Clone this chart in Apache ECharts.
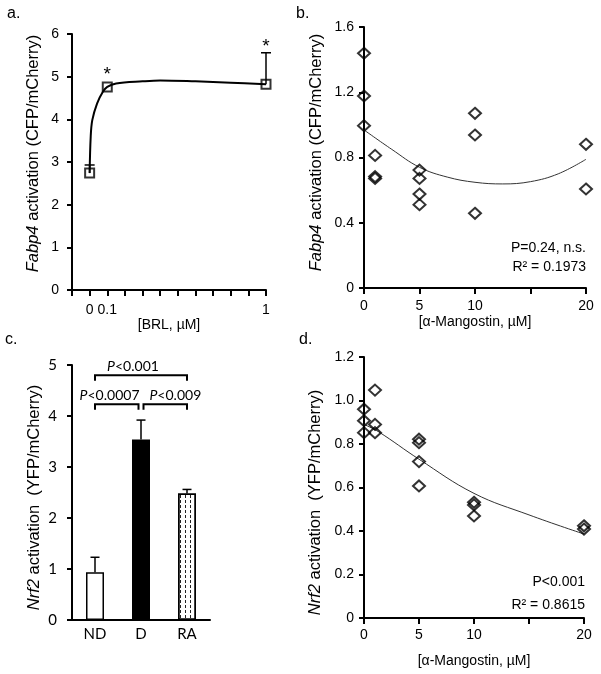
<!DOCTYPE html>
<html><head><meta charset="utf-8">
<script src="https://cdn.jsdelivr.net/npm/echarts@6/dist/echarts.min.js"></script>
<style>html,body{margin:0;padding:0;background:#fff}#c{width:601px;height:674px}</style>
</head><body><div id="c"></div>
<script>
// ---------- Panel a: Fabp4 activation vs BRL ----------
const brlDose = [0, 0.1, 1];
const fabp4Brl = [2.74, 4.76, 4.82];
const fabp4BrlErrTop = [2.93, null, 5.56];
const brlStarDose = [0.1, 1];
const brlStarY = [5.15, 5.79];
const brlCurveX = [0, 0.006, 0.015, 0.042, 0.076, 0.1, 0.15, 0.3, 0.4, 0.6, 0.8, 1];
const brlCurveY = [2.74, 3.59, 3.98, 4.37, 4.65, 4.76, 4.84, 4.89, 4.91, 4.89, 4.86, 4.82];
const brlTickLabels = ['0', '0.1', '1'];

// ---------- Panel b: Fabp4 activation vs alpha-Mangostin ----------
const mangoDoseB = [0, 0, 0, 1, 1, 1, 5, 5, 5, 5, 10, 10, 10, 20, 20];
const fabp4Mango = [1.439, 1.177, 0.995, 0.813, 0.683, 0.672, 0.723, 0.672, 0.576, 0.511, 1.071, 0.938, 0.458, 0.881, 0.607];
const fitBX = [0, 2.5, 5, 7.5, 10, 12.5, 15, 17.5, 20];
const fitBY = [0.969, 0.850, 0.740, 0.680, 0.648, 0.638, 0.652, 0.700, 0.789];
const statsB = ['P=0.24, n.s.', 'R\u00b2 = 0.1973'];

// ---------- Panel c: Nrf2 activation by group ----------
const groups = ['ND', 'D', 'RA'];
const nrf2Means = [0.935, 3.54, 2.48];
const nrf2ErrTop = [1.23, 3.92, 2.56];
const bracketFrom = [0, 0, 1];
const bracketTo = [2, 1, 2];
const bracketY = [4.80, 4.23, 4.23];
const bracketP = ['<0.001', '<0.0007', '<0.009'];

// ---------- Panel d: Nrf2 activation vs alpha-Mangostin ----------
const mangoDoseD = [0, 0, 0, 1, 1, 1, 5, 5, 5, 5, 10, 10, 10, 20, 20];
const nrf2Mango = [0.960, 0.907, 0.852, 1.048, 0.890, 0.852, 0.822, 0.806, 0.719, 0.607, 0.532, 0.520, 0.469, 0.424, 0.409];
const fitDX = [0, 1.3, 5, 10, 15, 20];
const fitDY = [0.89, 0.857, 0.73, 0.573, 0.474, 0.386];
const statsD = ['P<0.001', 'R\u00b2 = 0.8615'];

const panelLetters = ['a.', 'b.', 'c.', 'd.'];

// ---------- styling helpers ----------
const ARIAL = 'Liberation Sans, Arial, sans-serif';
const CALI = 'Lato, Open Sans, sans-serif';
const zip = (a, b) => a.map((v, i) => [v, b[i]]);

function axisBase(font, labelSize, margin, tickLen) {
  return {
    axisLine: { show: true, onZero: false, lineStyle: { color: '#000', width: 2 } },
    axisTick: { show: true, length: tickLen || 5, lineStyle: { color: '#000', width: 2 } },
    axisLabel: { color: '#000', fontSize: labelSize, fontFamily: font, margin: margin },
    splitLine: { show: false },
    nameTextStyle: { color: '#000', fontFamily: ARIAL, fontSize: 14 }
  };
}
function yName(gene, rest, pad) {
  return {
    name: '{i|' + gene + '}' + rest,
    nameLocation: 'middle',
    nameTextStyle: {
      color: '#000', fontFamily: ARIAL, fontSize: 16.5, padding: pad,
      rich: { i: { fontStyle: 'italic', fontFamily: ARIAL, fontSize: 16.5, color: '#000' } }
    }
  };
}
const dec1 = v => (Math.abs(v) < 1e-9 ? '0' : v.toFixed(1));

function errRender(capHalf) {
  return function (params, api) {
    const p0 = api.coord([api.value(0), api.value(1)]);
    const p1 = api.coord([api.value(0), api.value(2)]);
    const st = { stroke: '#000', lineWidth: 1.5 };
    return { type: 'group', children: [
      { type: 'line', shape: { x1: p0[0], y1: p0[1], x2: p1[0], y2: p1[1] }, style: st },
      { type: 'line', shape: { x1: p1[0] - capHalf, y1: p1[1], x2: p1[0] + capHalf, y2: p1[1] }, style: st }
    ] };
  };
}

// bracket label layout (style only)
const bracketLabelLayout = [
  { align: 'center', anchor: 'mid', dx: -8 },
  { align: 'right', anchor: 'end', dx: 1 },
  { align: 'left', anchor: 'start', dx: 6 }
];
function bracketRender(params, api) {
  const i = params.dataIndex;
  const f = api.value(0), t = api.value(1), y = api.value(2);
  const shared = (idx, self) => bracketY.some((yy, j) => j !== self && yy === bracketY[i] &&
    (bracketFrom[j] === idx || bracketTo[j] === idx));
  let x1 = api.coord([f, y])[0], x2 = api.coord([t, y])[0];
  const py = api.coord([f, y])[1];
  if (shared(f, i)) x1 += 2.5;
  if (shared(t, i)) x2 -= 2.5;
  const leg = 5.5;
  const st = { stroke: '#000', lineWidth: 2, fill: null };
  const L = bracketLabelLayout[i];
  const ax = L.anchor === 'mid' ? (x1 + x2) / 2 : (L.anchor === 'end' ? x2 : x1);
  return { type: 'group', children: [
    { type: 'polyline', shape: { points: [[x1, py + leg], [x1, py], [x2, py], [x2, py + leg]] }, style: st },
    { type: 'text', x: ax + L.dx, y: py - 9,
      style: { text: '{i|P}' + bracketP[i], align: L.align, verticalAlign: 'middle',
        textAlign: L.align, textVerticalAlign: 'middle',
        fontSize: 14, fontFamily: CALI, fill: '#000',
        rich: { i: { fontStyle: 'italic', fontSize: 14, fontFamily: CALI, fill: '#000' } } } }
  ] };
}

const hollow = { color: 'rgba(0,0,0,0)', borderColor: '#000', borderWidth: 2 };

const option = {
  animation: false,
  backgroundColor: '#fff',
  grid: [
    { left: 72, top: 34, width: 194, height: 256 },
    { left: 364, top: 27, width: 222, height: 261 },
    { left: 72, top: 365, width: 138, height: 255 },
    { left: 364, top: 357, width: 220, height: 261 }
  ],
  xAxis: [
    Object.assign(axisBase(ARIAL, 14, 13, 6), {
      gridIndex: 0, type: 'value', min: -0.1, max: 1, interval: 0.1,
      name: '[BRL, \u00b5M]', nameLocation: 'middle', nameGap: 27,
      axisLabel: { color: '#000', fontSize: 14, fontFamily: ARIAL, margin: 13,
        formatter: v => { const s = String(Math.round(v * 10) / 10); return brlTickLabels.indexOf(s) >= 0 ? s : ''; } }
    }),
    Object.assign(axisBase(ARIAL, 14, 11, 6), {
      gridIndex: 1, type: 'value', min: 0, max: 20, interval: 5,
      name: '[\u03b1-Mangostin, \u00b5M]', nameLocation: 'middle', nameGap: 27,
      axisLabel: { color: '#000', fontSize: 14, fontFamily: ARIAL, margin: 11, formatter: v => (v === 15 ? '' : String(v)) }
    }),
    Object.assign(axisBase(CALI, 15, 7), {
      gridIndex: 2, type: 'category', data: groups, axisTick: { show: false }
    }),
    Object.assign(axisBase(ARIAL, 14, 10, 6), {
      gridIndex: 3, type: 'value', min: 0, max: 20, interval: 5,
      name: '[\u03b1-Mangostin, \u00b5M]', nameLocation: 'middle', nameGap: 36,
      axisLabel: { color: '#000', fontSize: 14, fontFamily: ARIAL, margin: 10, formatter: v => (v === 15 ? '' : String(v)) }
    })
  ],
  yAxis: [
    Object.assign(axisBase(ARIAL, 14, 13), yName('Fabp4', ' activation (CFP/mCherry)', [0, 0, 0, 17]), {
      gridIndex: 0, type: 'value', min: 0, max: 6, interval: 1, nameGap: 30
    }),
    Object.assign(axisBase(ARIAL, 14, 10), yName('Fabp4', ' activation (CFP/mCherry)', [0, 0, 0, 10]), {
      gridIndex: 1, type: 'value', min: 0, max: 1.6, interval: 0.4, nameGap: 39,
      axisLabel: { color: '#000', fontSize: 14, fontFamily: ARIAL, margin: 10, formatter: dec1 }
    }),
    Object.assign(axisBase(CALI, 15, 15), yName('Nrf2', ' activation  (YFP/mCherry)', [0, 10, 0, 0]), {
      gridIndex: 2, type: 'value', min: 0, max: 5, interval: 1, nameGap: 29
    }),
    Object.assign(axisBase(ARIAL, 14, 10), yName('Nrf2', ' activation  (YFP/mCherry)', [0, 30, 0, 0]), {
      gridIndex: 3, type: 'value', min: 0, max: 1.2, interval: 0.2, nameGap: 40,
      axisLabel: { color: '#000', fontSize: 14, fontFamily: ARIAL, margin: 10, formatter: dec1 }
    })
  ],
  series: [
    // panel a
    { type: 'line', xAxisIndex: 0, yAxisIndex: 0, data: zip(brlCurveX, brlCurveY), smooth: 0.35,
      showSymbol: false, symbol: 'none', lineStyle: { color: '#000', width: 2 }, z: 2 },
    { type: 'custom', xAxisIndex: 0, yAxisIndex: 0, renderItem: errRender(5), z: 3,
      data: brlDose.map((d, i) => [d, fabp4Brl[i], fabp4BrlErrTop[i]]).filter(r => r[2] != null) },
    { type: 'scatter', xAxisIndex: 0, yAxisIndex: 0, data: zip(brlDose, fabp4Brl), symbol: 'rect', symbolSize: 9,
      itemStyle: hollow, z: 4 },
    { type: 'custom', xAxisIndex: 0, yAxisIndex: 0, z: 4, data: zip(brlStarDose, brlStarY),
      renderItem: (p, api) => { const c = api.coord([api.value(0), api.value(1)]);
        return { type: 'text', x: c[0], y: c[1] + 4, style: { text: '*', align: 'center', verticalAlign: 'middle',
          textAlign: 'center', textVerticalAlign: 'middle', fontSize: 19, fontFamily: ARIAL, fill: '#000' } }; } },
    // panel b
    { type: 'line', xAxisIndex: 1, yAxisIndex: 1, data: zip(fitBX, fitBY), smooth: 0.4,
      showSymbol: false, symbol: 'none', lineStyle: { color: '#333', width: 1 }, z: 2 },
    { type: 'scatter', xAxisIndex: 1, yAxisIndex: 1, data: zip(mangoDoseB, fabp4Mango), symbol: 'diamond',
      symbolSize: [12, 11], itemStyle: hollow, z: 4 },
    // panel c
    { type: 'bar', xAxisIndex: 2, yAxisIndex: 2, barWidth: 18, z: 2,
      data: nrf2Means.map((v, i) => ({ value: v,
        itemStyle: i === 0 ? { color: '#fff', borderColor: '#000', borderWidth: 1.5 }
          : i === 1 ? { color: '#000', borderColor: '#000', borderWidth: 1.5 }
          : { color: '#fff', borderColor: '#000', borderWidth: 1.5,
              decal: { symbol: 'rect', symbolSize: 1, color: '#222', dashArrayX: [1, 4], dashArrayY: [3, 2], rotation: 0 } } })) },
    { type: 'custom', xAxisIndex: 2, yAxisIndex: 2, renderItem: errRender(4.5), z: 3,
      data: nrf2Means.map((v, i) => [i, v, nrf2ErrTop[i]]) },
    { type: 'custom', xAxisIndex: 2, yAxisIndex: 2, renderItem: bracketRender, z: 3,
      data: bracketFrom.map((f, i) => [f, bracketTo[i], bracketY[i]]) },
    // panel d
    { type: 'line', xAxisIndex: 3, yAxisIndex: 3, data: zip(fitDX, fitDY), smooth: 0.4,
      showSymbol: false, symbol: 'none', lineStyle: { color: '#333', width: 1 }, z: 2 },
    { type: 'scatter', xAxisIndex: 3, yAxisIndex: 3, data: zip(mangoDoseD, nrf2Mango), symbol: 'diamond',
      symbolSize: [12, 11], itemStyle: hollow, z: 4 }
  ],
  graphic: [
    { type: 'text', x: 7, y: 6, style: { text: panelLetters[0], fontSize: 16, fontFamily: ARIAL, fill: '#000' } },
    { type: 'text', x: 296, y: 6, style: { text: panelLetters[1], fontSize: 16, fontFamily: ARIAL, fill: '#000' } },
    { type: 'text', x: 5, y: 332, style: { text: panelLetters[2], fontSize: 16, fontFamily: ARIAL, fill: '#000' } },
    { type: 'text', x: 299, y: 332, style: { text: panelLetters[3], fontSize: 16, fontFamily: ARIAL, fill: '#000' } },
    { type: 'text', x: 586, y: 248, style: { text: statsB[0], align: 'right', verticalAlign: 'middle', textAlign: 'right', textVerticalAlign: 'middle', fontSize: 14, fontFamily: ARIAL, fill: '#000' } },
    { type: 'text', x: 586, y: 267, style: { text: statsB[1], align: 'right', verticalAlign: 'middle', textAlign: 'right', textVerticalAlign: 'middle', fontSize: 14, fontFamily: ARIAL, fill: '#000' } },
    { type: 'text', x: 585, y: 582, style: { text: statsD[0], align: 'right', verticalAlign: 'middle', textAlign: 'right', textVerticalAlign: 'middle', fontSize: 14, fontFamily: ARIAL, fill: '#000' } },
    { type: 'text', x: 585, y: 605, style: { text: statsD[1], align: 'right', verticalAlign: 'middle', textAlign: 'right', textVerticalAlign: 'middle', fontSize: 14, fontFamily: ARIAL, fill: '#000' } }
  ]
};

const chart = echarts.init(document.getElementById('c'), null, { renderer: 'canvas' });
chart.setOption(option);
</script>
</body></html>
